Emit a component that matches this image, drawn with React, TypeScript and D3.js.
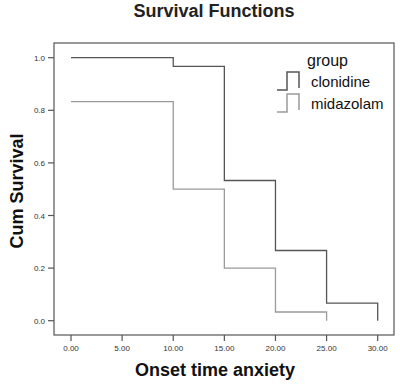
import React from "react";
import * as d3 from "d3";

// survival step data (time, cumulative survival)
const clonidineTimes = [0, 10, 15, 20, 25, 30];
const clonidineSurv = [1.0, 0.967, 0.533, 0.267, 0.067, 0.0];
const midazolamTimes = [0, 10, 15, 20, 25];
const midazolamSurv = [0.833, 0.5, 0.2, 0.033, 0.0];

const xTicks = [0, 5, 10, 15, 20, 25, 30];
const yTicks = [0, 0.2, 0.4, 0.6, 0.8, 1.0];
const groups = ["clonidine", "midazolam"];

const App = () => {
  const W = 400;
  const H = 384;
  const frame = { left: 54, top: 43, right: 394, bottom: 335 };

  const x = d3.scaleLinear().domain([0, 30]).range([71, 377.7]);
  const y = d3.scaleLinear().domain([0, 1]).range([320.7, 57.7]);

  const line = d3
    .line<[number, number]>()
    .x((d) => x(d[0]))
    .y((d) => y(d[1]))
    .curve(d3.curveStepAfter);

  const series = [
    { name: groups[0], pts: clonidineTimes.map((t, i) => [t, clonidineSurv[i]] as [number, number]), color: "#555555" },
    { name: groups[1], pts: midazolamTimes.map((t, i) => [t, midazolamSurv[i]] as [number, number]), color: "#9a9a9a" },
  ];

  const axisColor = "#555555";
  const font = "'Liberation Sans', Arial, sans-serif";

  return (
    <svg width={W} height={H} style={{ position: "absolute", left: 0, top: 0, background: "#fff" }} fontFamily={font}>
      <rect x={0} y={0} width={W} height={H} fill="#fff" />
      <text x={214} y={17} textAnchor="middle" fontWeight="bold" fontSize={18} fill="#222">
        Survival Functions
      </text>

      {/* frame */}
      <rect
        x={frame.left}
        y={frame.top}
        width={frame.right - frame.left}
        height={frame.bottom - frame.top}
        fill="none"
        stroke={axisColor}
        strokeWidth={1.2}
      />

      {/* y ticks */}
      {yTicks.map((t) => (
        <g key={"y" + t}>
          <line x1={frame.left - 6} x2={frame.left} y1={y(t)} y2={y(t)} stroke={axisColor} strokeWidth={1.2} />
          <text x={frame.left - 9} y={y(t) + 3} textAnchor="end" fontSize={8} fill="#333">
            {t.toFixed(1)}
          </text>
        </g>
      ))}

      {/* x ticks */}
      {xTicks.map((t) => (
        <g key={"x" + t}>
          <line x1={x(t)} x2={x(t)} y1={frame.bottom} y2={frame.bottom + 6} stroke={axisColor} strokeWidth={1.2} />
          <text x={x(t)} y={351} textAnchor="middle" fontSize={8} fill="#333">
            {t.toFixed(2)}
          </text>
        </g>
      ))}

      {/* survival curves */}
      {series.map((s) => (
        <path key={s.name} d={line(s.pts) || ""} fill="none" stroke={s.color} strokeWidth={1.3} />
      ))}

      {/* axis titles */}
      <text
        transform="translate(23,191) rotate(-90)"
        textAnchor="middle"
        fontWeight="bold"
        fontSize={18}
        fill="#111"
      >
        Cum Survival
      </text>
      <text x={215} y={376} textAnchor="middle" fontWeight="bold" fontSize={18} fill="#111">
        Onset time anxiety
      </text>

      {/* legend */}
      <text x={307} y={66} fontSize={16} fill="#111">
        group
      </text>
      {series.map((s, i) => {
        const by = 90 + i * 22;
        return (
          <g key={"lg" + s.name}>
            <path
              d={`M277,${by} H287 V${by - 18} H299 V${by - 2}`}
              fill="none"
              stroke={s.color}
              strokeWidth={1.5}
            />
            <text x={311} y={by - 3} fontSize={15} fill="#111">
              {s.name}
            </text>
          </g>
        );
      })}
    </svg>
  );
};

export default App;
